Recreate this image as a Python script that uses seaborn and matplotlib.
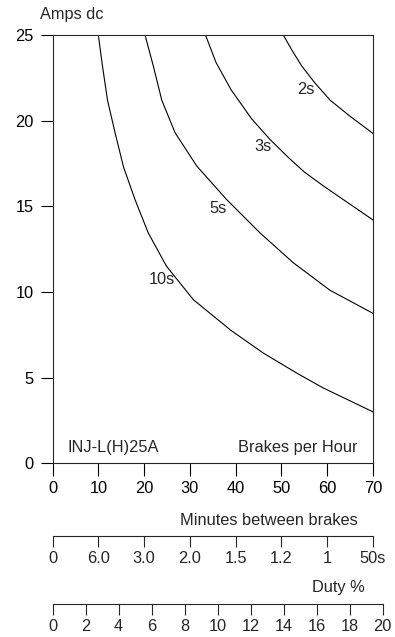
import numpy as np
import pandas as pd
import seaborn as sns
from matplotlib import pyplot as plt

# curve data: brakes per hour vs amps dc
x_2s = [50.4, 52.2, 54.4, 57.3, 60.6, 65.0, 70]
y_2s = [25, 24.15, 23.2, 22.2, 21.2, 20.25, 19.25]
x_3s = [33.4, 35.7, 39.0, 43.5, 47.5, 51.5, 55.0, 59.1, 64.0, 70]
y_3s = [25, 23.4, 21.8, 20.1, 18.9, 17.85, 17.0, 16.2, 15.3, 14.2]
x_5s = [20.2, 22.0, 23.85, 26.75, 31.5, 38.0, 45.3, 52.6, 60.6, 70]
y_5s = [25, 23.2, 21.2, 19.3, 17.35, 15.4, 13.45, 11.7, 10.1, 8.75]
x_10s = [10.0, 10.9, 12.0, 13.65, 15.5, 18.0, 20.9, 24.9, 30.75, 39.0, 46.0, 53.3, 59.1, 70]
y_10s = [25, 23.2, 21.2, 19.3, 17.3, 15.4, 13.45, 11.5, 9.55, 7.75, 6.44, 5.27, 4.4, 3.0]

curve_names = ['2s', '3s', '5s', '10s']
label_pos = {'2s': (55.4, 21.8), '3s': (45.9, 18.5), '5s': (36.1, 14.85), '10s': (23.8, 10.72)}

main_ticks = [0, 10, 20, 30, 40, 50, 60, 70]
y_ticks = [0, 5, 10, 15, 20, 25]
minutes_labels = ['0', '6.0', '3.0', '2.0', '1.5', '1.2', '1', '50s']
duty_ticks = [0, 2, 4, 6, 8, 10, 12, 14, 16, 18, 20]

FS = 11.8

df = pd.concat([
    pd.DataFrame({'bph': x_2s, 'amps': y_2s, 'time': '2s'}),
    pd.DataFrame({'bph': x_3s, 'amps': y_3s, 'time': '3s'}),
    pd.DataFrame({'bph': x_5s, 'amps': y_5s, 'time': '5s'}),
    pd.DataFrame({'bph': x_10s, 'amps': y_10s, 'time': '10s'}),
])

sns.set_style('ticks')
plt.rcParams['font.family'] = ['Liberation Sans', 'DejaVu Sans']
plt.rcParams['font.size'] = FS

fig = plt.figure(figsize=(3.95, 6.37), dpi=100)
ax = fig.add_axes([0.133, 0.2727, 0.8114, 0.6724])

sns.lineplot(data=df, x='bph', y='amps', hue='time', units='time', estimator=None,
             palette=['black'] * 4, linewidth=0.8, legend=False, sort=False, ax=ax)

ax.set_xlim(0, 70)
ax.set_ylim(0, 25)
ax.set_xticks(main_ticks)
ax.set_yticks(y_ticks)
ax.set_xlabel('')
ax.set_ylabel('')
for s in ax.spines.values():
    s.set_linewidth(0.8)
ax.tick_params(axis='both', direction='out', length=9, width=0.8, labelsize=FS, colors='black')
ax.tick_params(axis='x', pad=3.5)
ax.tick_params(axis='y', pad=4.5)

for name in curve_names:
    lx, ly = label_pos[name]
    ax.text(lx, ly, name, ha='center', va='center', fontsize=FS)

ax.text(3.2, 0.9, 'INJ-L(H)25A', ha='left', va='center', fontsize=FS)
ax.text(66.5, 0.9, 'Brakes per Hour', ha='right', va='center', fontsize=FS)
fig.text(0.101, 0.977, 'Amps dc', ha='left', va='center', fontsize=FS)

# minutes between brakes scale
ax2 = fig.add_axes([0.133, 0.1586, 0.8114, 0.0001])
ax2.set_xlim(0, 70)
ax2.set_xticks(main_ticks)
ax2.set_xticklabels(minutes_labels)
ax2.set_yticks([])
for side in ['top', 'left', 'right']:
    ax2.spines[side].set_visible(False)
ax2.spines['bottom'].set_linewidth(0.8)
ax2.tick_params(axis='x', direction='out', length=8, width=0.8, labelsize=FS, pad=2.5)
ax2.patch.set_visible(False)
fig.text(0.906, 0.183, 'Minutes between brakes', ha='right', va='center', fontsize=FS)

# duty % scale
ax3 = fig.add_axes([0.133, 0.0518, 0.8354, 0.0001])
ax3.set_xlim(0, 20)
ax3.set_xticks(duty_ticks)
ax3.set_xticklabels([str(t) for t in duty_ticks])
ax3.set_yticks([])
for side in ['top', 'left', 'right']:
    ax3.spines[side].set_visible(False)
ax3.spines['bottom'].set_linewidth(0.8)
ax3.tick_params(axis='x', direction='out', length=8, width=0.8, labelsize=FS, pad=2.5)
ax3.patch.set_visible(False)
fig.text(0.924, 0.077, 'Duty %', ha='right', va='center', fontsize=FS)

fig.savefig('out.png', dpi=100)
